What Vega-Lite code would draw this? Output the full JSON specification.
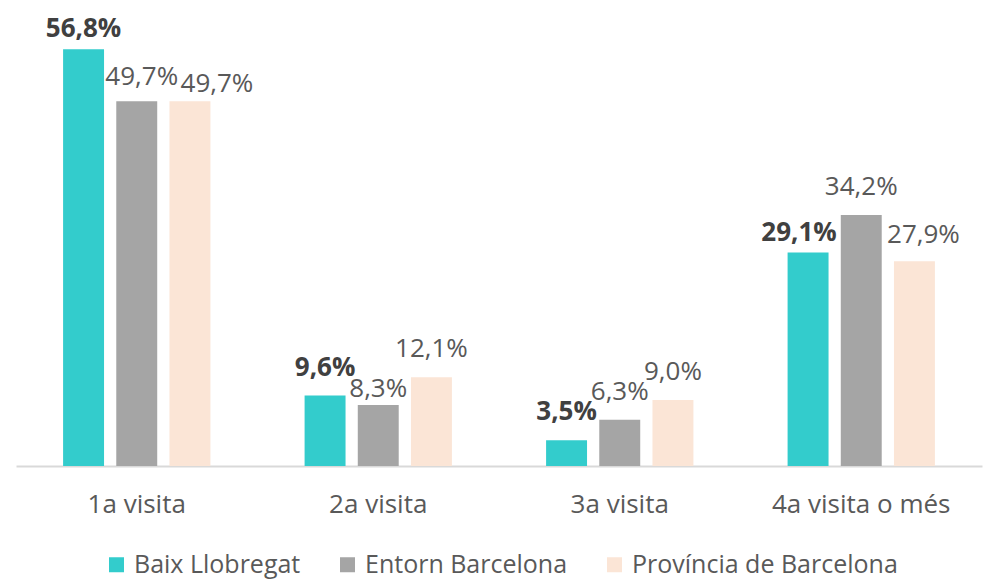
{
  "$schema": "https://vega.github.io/schema/vega-lite/v6.json",
  "autosize": "none",
  "width": 966,
  "height": 466,
  "padding": {"left": 16, "top": 0, "right": 5, "bottom": 119},
  "background": "white",
  "config": {
    "view": {"stroke": null},
    "font": "Open Sans",
    "text": {"font": "Open Sans"}
  },
  "data": {
    "values": [
      {"visita": "1a visita", "zona": "Baix Llobregat", "pct": 56.8, "label": "56,8%"},
      {"visita": "1a visita", "zona": "Entorn Barcelona", "pct": 49.7, "label": "49,7%"},
      {"visita": "1a visita", "zona": "Província de Barcelona", "pct": 49.7, "label": "49,7%"},
      {"visita": "2a visita", "zona": "Baix Llobregat", "pct": 9.6, "label": "9,6%"},
      {"visita": "2a visita", "zona": "Entorn Barcelona", "pct": 8.3, "label": "8,3%"},
      {"visita": "2a visita", "zona": "Província de Barcelona", "pct": 12.1, "label": "12,1%"},
      {"visita": "3a visita", "zona": "Baix Llobregat", "pct": 3.5, "label": "3,5%"},
      {"visita": "3a visita", "zona": "Entorn Barcelona", "pct": 6.3, "label": "6,3%"},
      {"visita": "3a visita", "zona": "Província de Barcelona", "pct": 9.0, "label": "9,0%"},
      {"visita": "4a visita o més", "zona": "Baix Llobregat", "pct": 29.1, "label": "29,1%"},
      {"visita": "4a visita o més", "zona": "Entorn Barcelona", "pct": 34.2, "label": "34,2%"},
      {"visita": "4a visita o més", "zona": "Província de Barcelona", "pct": 27.9, "label": "27,9%"}
    ]
  },
  "encoding": {
    "x": {
      "field": "visita", "type": "nominal", "sort": null, "title": null,
      "scale": {"paddingInner": 0.39, "paddingOuter": 0.195},
      "axis": {
        "labelAngle": 0, "ticks": false, "grid": false,
        "domainColor": "#D9D9D9", "domainWidth": 2,
        "labelFont": "Open Sans", "labelFontSize": 26, "labelColor": "#595959",
        "labelPadding": 25
      }
    },
    "xOffset": {
      "field": "zona", "type": "nominal", "sort": null,
      "scale": {"paddingInner": 0.23, "paddingOuter": 0}
    },
    "y": {
      "field": "pct", "type": "quantitative",
      "scale": {"domain": [0, 63.5], "nice": false, "zero": true},
      "axis": null
    }
  },
  "layer": [
    {
      "mark": {"type": "bar"},
      "encoding": {
        "color": {
          "field": "zona", "type": "nominal", "sort": null,
          "scale": {
            "domain": ["Baix Llobregat", "Entorn Barcelona", "Província de Barcelona"],
            "range": ["#33CCCC", "#A5A5A5", "#FBE5D6"]
          },
          "legend": {
            "title": null, "orient": "none", "direction": "horizontal",
            "legendX": 88, "legendY": 552,
            "symbolType": "square", "symbolSize": 225, "symbolStrokeWidth": 0,
            "labelFont": "Open Sans", "labelFontSize": 25, "labelColor": "#595959",
            "labelOffset": 5, "labelLimit": 0, "columnPadding": 34
          }
        }
      }
    },
    {
      "mark": {
        "type": "text", "fontSize": 26, "baseline": "alphabetic",
        "color": {"expr": "datum.zona == 'Baix Llobregat' ? '#404040' : '#595959'"},
        "fontWeight": {"expr": "datum.zona == 'Baix Llobregat' ? 'bold' : 'normal'"},
        "dy": {"expr": "datum.label == '8,3%' ? -8 : datum.label == '29,1%' ? -11 : datum.label == '56,8%' ? -12 : datum.label == '27,9%' ? -18 : (datum.visita == '1a visita' && datum.zona == 'Entorn Barcelona') ? -16 : (datum.visita == '1a visita' && datum.zona == 'Província de Barcelona') ? -9 : -20"},
        "dx": {"expr": "datum.label == '29,1%' ? -9 : datum.label == '27,9%' ? 9 : (datum.visita == '1a visita' && datum.zona == 'Entorn Barcelona') ? 5 : (datum.visita == '1a visita' && datum.zona == 'Província de Barcelona') ? 27 : 0"}
      },
      "encoding": {"text": {"field": "label"}}
    }
  ]
}
